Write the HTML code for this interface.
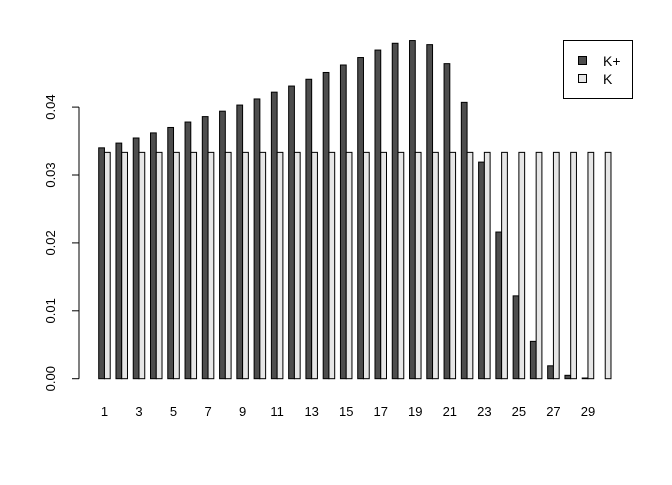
<!DOCTYPE html>
<html><head><meta charset="utf-8"><style>
body{margin:0;background:#fff}
svg text{font-family:"Liberation Sans",sans-serif;font-size:13px;fill:#000}
</style></head><body>
<svg width="672" height="480" id="c">
<g id="bars"></g>
<g id="axes"></g>
<g>
<rect x="563.5" y="40.5" width="69" height="58" fill="#fff" stroke="#000"/>
<rect x="578.5" y="56.5" width="8" height="8" fill="#4d4d4d" stroke="#000"/>
<text x="603" y="66" style="font-size:14px">K+</text>
<rect x="578.5" y="74.5" width="8" height="8" fill="#e6e6e6" stroke="#000"/>
<text x="603" y="84" style="font-size:14px">K</text>
</g>
</svg>
<script>
const categories=[1,2,3,4,5,6,7,8,9,10,11,12,13,14,15,16,17,18,19,20,21,22,23,24,25,26,27,28,29,30];
const kplus=[0.0340,0.0347,0.03545,0.0362,0.0370,0.0378,0.0386,0.0394,0.0403,0.0412,0.0422,0.0431,0.0441,0.0451,0.0462,0.0473,0.0484,0.0494,0.0498,0.0492,0.0464,0.0407,0.0319,0.0216,0.0122,0.0055,0.0019,0.0005,0.0001,0];
const kvals=categories.map(()=>1/30);
const yTicks=[0,0.01,0.02,0.03,0.04];
const yLabels=["0.00","0.01","0.02","0.03","0.04"];
const NS='http://www.w3.org/2000/svg';
const x=u=>98.7+(u-1)*5.756;
const y=v=>378.7-v*6790;
const bars=document.getElementById('bars'),axes=document.getElementById('axes');
function mk(t,a,p){const e=document.createElementNS(NS,t);for(const k in a)e.setAttribute(k,a[k]);p.appendChild(e);return e;}
categories.forEach((c,i)=>{
  const u0=1+i*3;
  const b1=mk('rect',{x:x(u0),y:y(kplus[i]),width:x(u0+1)-x(u0),height:y(0)-y(kplus[i]),fill:'#4d4d4d',stroke:'#000','stroke-width':1},bars);
  
  
  const b2=mk('rect',{x:x(u0+1),y:y(kvals[i]),width:x(u0+2)-x(u0+1),height:y(0)-y(kvals[i]),fill:'#e6e6e6',stroke:'#000','stroke-width':1},bars);
  
  
  if(i%2===0){
    const t=mk('text',{x:x(u0+1),y:416,'text-anchor':'middle'},axes);
    t.textContent=c;
    
    
  }
});
const ax=mk('line',{x1:79,x2:79,y1:y(0),y2:y(0.04),stroke:'#000'},axes);


yTicks.forEach((v,i)=>{
  mk('line',{x1:72,x2:79,y1:y(v),y2:y(v),stroke:'#000'},axes);
  const t=mk('text',{x:0,y:0,'text-anchor':'middle',transform:`translate(55,${y(v)}) rotate(-90)`},axes);
  t.textContent=yLabels[i];
  
  
});
</script>
</body></html>
